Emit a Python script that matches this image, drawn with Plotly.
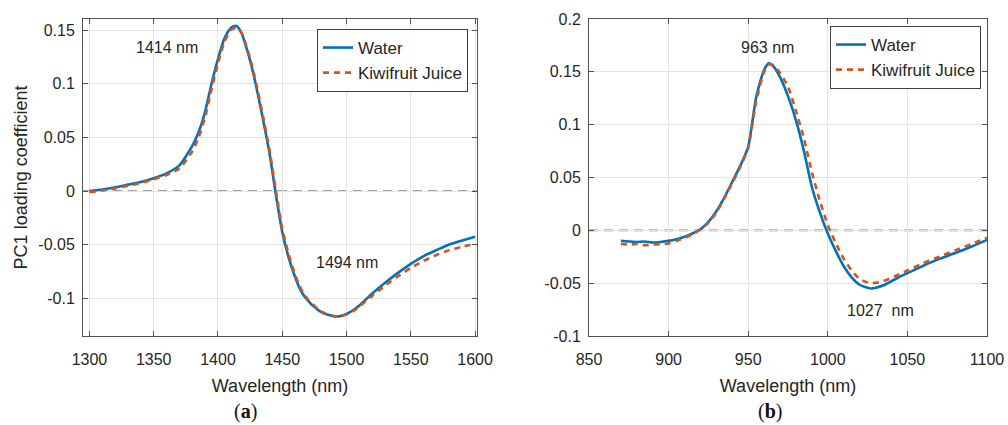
import plotly.graph_objects as go

# ---------------- data ----------------
wl_a = [1300, 1310, 1320, 1330, 1340, 1350, 1360, 1370, 1380, 1385, 1390, 1395,
        1400, 1405, 1410, 1414, 1418, 1422, 1426, 1430, 1435, 1440, 1445, 1450,
        1455, 1460, 1465, 1470, 1475, 1480, 1485, 1490, 1494, 1500, 1505, 1510,
        1520, 1530, 1540, 1550, 1560, 1570, 1580, 1590, 1600]
water_a = [0.0, 0.0015, 0.0035, 0.006, 0.0085, 0.012, 0.0165, 0.024, 0.042, 0.055,
           0.074, 0.100, 0.123, 0.142, 0.152, 0.154, 0.148, 0.134, 0.117, 0.096,
           0.067, 0.036, -0.003, -0.038, -0.062, -0.080, -0.094, -0.102, -0.108,
           -0.1125, -0.115, -0.1165, -0.1167, -0.1145, -0.111, -0.1065, -0.0955,
           -0.0855, -0.0762, -0.0678, -0.0605, -0.055, -0.0497, -0.046, -0.0425]
kiwi_a = [-0.001, 0.0005, 0.0025, 0.005, 0.0075, 0.011, 0.015, 0.021, 0.037, 0.050,
          0.069, 0.095, 0.119, 0.139, 0.150, 0.152, 0.148, 0.136, 0.119, 0.099,
          0.070, 0.039, 0.001, -0.035, -0.059, -0.078, -0.092, -0.101, -0.107,
          -0.112, -0.115, -0.1165, -0.1167, -0.115, -0.112, -0.1075, -0.0975,
          -0.088, -0.0795, -0.0715, -0.065, -0.0595, -0.055, -0.052, -0.049]

wl_b = [870, 875, 880, 885, 890, 895, 900, 905, 910, 915, 920, 925, 930, 935, 940,
        945, 950, 955, 960, 963, 966, 970, 975, 980, 985, 990, 995, 1000, 1005,
        1010, 1015, 1020, 1027, 1035, 1045, 1050, 1060, 1070, 1080, 1090, 1100]
water_b = [-0.010, -0.0105, -0.011, -0.0105, -0.0115, -0.011, -0.010, -0.0085,
           -0.006, -0.003, 0.001, 0.008, 0.018, 0.031, 0.046, 0.061, 0.079, 0.126,
           0.152, 0.158, 0.155, 0.145, 0.127, 0.104, 0.075, 0.041, 0.017, -0.003,
           -0.0195, -0.034, -0.0445, -0.0515, -0.055, -0.052, -0.044, -0.0405,
           -0.0335, -0.027, -0.0215, -0.0155, -0.009]
kiwi_b = [-0.013, -0.0135, -0.013, -0.014, -0.0135, -0.013, -0.0125, -0.010,
          -0.007, -0.004, 0.001, 0.007, 0.017, 0.030, 0.045, 0.060, 0.078, 0.122,
          0.150, 0.157, 0.156, 0.149, 0.136, 0.113, 0.087, 0.055, 0.028, 0.005,
          -0.012, -0.027, -0.038, -0.046, -0.050, -0.048, -0.0415, -0.038,
          -0.031, -0.025, -0.019, -0.013, -0.007]

series_names = ["Water", "Kiwifruit Juice"]

xticks_a = [1300, 1350, 1400, 1450, 1500, 1550, 1600]
yticks_a = [-0.1, -0.05, 0, 0.05, 0.1, 0.15]
ylabels_a = ["-0.1", "-0.05", "0", "0.05", "0.1", "0.15"]
xticks_b = [850, 900, 950, 1000, 1050, 1100]
yticks_b = [-0.1, -0.05, 0, 0.05, 0.1, 0.15, 0.2]
ylabels_b = ["-0.1", "-0.05", "0", "0.05", "0.1", "0.15", "0.2"]

peak_labels_a = [(1360, 0.1336, "1414 nm"), (1500, -0.0664, "1494 nm")]
peak_labels_b = [(962, 0.1726, "963 nm"), (1033, -0.0763, "1027\u00a0\u00a0nm")]

# ---------------- styling ----------------
W, H = 1008, 425
BLUE = "#0072BD"
ORANGE = "#D95319"
AX = "#555555"
GRID = "#e4e4e4"
FONT = "Liberation Sans, Arial, sans-serif"

fig = go.Figure()

fig.add_trace(go.Scatter(x=wl_a, y=water_a, name=series_names[0], mode="lines",
                         line=dict(color=BLUE, width=2.6, shape="spline", smoothing=0.6),
                         xaxis="x", yaxis="y", legend="legend"))
fig.add_trace(go.Scatter(x=wl_a, y=kiwi_a, name=series_names[1], mode="lines",
                         line=dict(color=ORANGE, width=2.6, dash="6px,5px", shape="spline", smoothing=0.6),
                         xaxis="x", yaxis="y", legend="legend"))
fig.add_trace(go.Scatter(x=wl_b, y=water_b, name=series_names[0], mode="lines",
                         line=dict(color=BLUE, width=2.6, shape="spline", smoothing=0.6),
                         xaxis="x2", yaxis="y2", legend="legend2"))
fig.add_trace(go.Scatter(x=wl_b, y=kiwi_b, name=series_names[1], mode="lines",
                         line=dict(color=ORANGE, width=2.6, dash="6px,5px", shape="spline", smoothing=0.6),
                         xaxis="x2", yaxis="y2", legend="legend2"))

# zero reference lines
for xr, yr in (("x domain", "y"), ("x2 domain", "y2")):
    fig.add_shape(type="line", xref=xr, yref=yr, x0=0, x1=1, y0=0, y1=0,
                  line=dict(color="#808080", width=1.6, dash="9px,6px"), layer="below")

ydom = [1 - 336 / H, 1 - 19 / H]
axis_common = dict(showline=True, linecolor=AX, linewidth=1, mirror="ticks",
                   ticks="inside", ticklen=5, tickcolor=AX, showgrid=True,
                   gridcolor=GRID, gridwidth=1, zeroline=False, automargin=False,
                   tickfont=dict(family=FONT, size=16, color="#262626"))

fig.update_layout(
    width=W, height=H, margin=dict(l=0, r=0, t=0, b=0),
    paper_bgcolor="white", plot_bgcolor="white",
    font=dict(family=FONT, color="#262626"),
    xaxis=dict(domain=[83 / W, 477 / W], range=[1295, 1601.5], tickvals=xticks_a,
               anchor="y", ticklabelstandoff=9,
               title=dict(text="Wavelength (nm)", font=dict(size=18), standoff=12),
               **axis_common),
    yaxis=dict(domain=ydom, range=[-0.135, 0.1603], tickvals=yticks_a, ticktext=ylabels_a,
               anchor="x", ticklabelstandoff=4,
               title=dict(text="PC1 loading coefficient", font=dict(size=18), standoff=6),
               **axis_common),
    xaxis2=dict(domain=[589 / W, 987 / W], range=[850, 1100], tickvals=xticks_b,
                anchor="y2", ticklabelstandoff=9,
                title=dict(text="Wavelength (nm)", font=dict(size=18), standoff=12),
                **axis_common),
    yaxis2=dict(domain=ydom, range=[-0.1, 0.2], tickvals=yticks_b, ticktext=ylabels_b,
                anchor="x2", ticklabelstandoff=4, **axis_common),
    legend=dict(x=468 / W, y=1 - 29 / H, xanchor="right", yanchor="top",
                bgcolor="white", bordercolor="#404040", borderwidth=1,
                font=dict(family=FONT, size=17, color="#262626"),
                itemwidth=30, tracegroupgap=0),
    legend2=dict(x=981 / W, y=1 - 26 / H, xanchor="right", yanchor="top",
                 bgcolor="white", bordercolor="#404040", borderwidth=1,
                 font=dict(family=FONT, size=17, color="#262626"),
                 itemwidth=30, tracegroupgap=0),
    showlegend=True,
)

for x, y, t in peak_labels_a:
    fig.add_annotation(x=x, y=y, xref="x", yref="y", text=t, showarrow=False,
                       font=dict(family=FONT, size=16, color="#262626"))
for x, y, t in peak_labels_b:
    fig.add_annotation(x=x, y=y, xref="x2", yref="y2", text=t, showarrow=False,
                       font=dict(family=FONT, size=16, color="#262626"))

# panel letters
for xc, letter in ((245, "a"), (770, "b")):
    fig.add_annotation(x=xc / W, y=1 - 411 / H, xref="paper", yref="paper",
                       xanchor="center", yanchor="middle",
                       text="(<b>%s</b>)" % letter, showarrow=False,
                       font=dict(family="Liberation Serif, Times New Roman, serif",
                                 size=20, color="#111111"))

fig.write_html("out.html")
